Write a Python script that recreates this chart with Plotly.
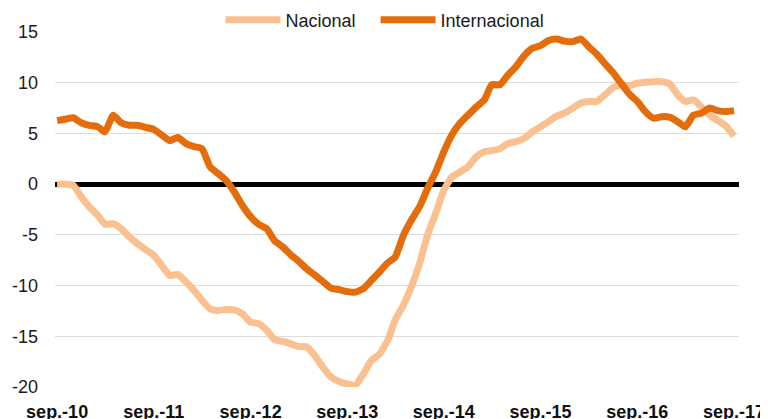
import pandas as pd
import plotly.graph_objects as go

# Monthly dates: sep-2010 .. sep-2017
dates = pd.date_range("2010-09-01", "2017-09-01", freq="MS")

nacional = [
    0.0, 0.0, -0.1, -1.25, -2.25, -3.05, -3.95, -3.9, -4.4, -5.2,
    -5.85, -6.45, -7.0, -8.0, -9.0, -8.9, -9.65, -10.5, -11.45, -12.3,
    -12.45, -12.35, -12.4, -12.8, -13.6, -13.75, -14.4, -15.35, -15.5, -15.75,
    -16.0, -16.05, -16.9, -18.05, -19.0, -19.45, -19.7, -19.85, -18.7, -17.4,
    -16.75, -15.4, -13.4, -11.95, -10.15, -7.85, -5.05, -2.9, -0.6, 0.7,
    1.2, 1.7, 2.7, 3.2, 3.3, 3.5, 4.0, 4.2, 4.5, 5.15,
    5.65, 6.15, 6.7, 7.0, 7.5, 8.0, 8.15, 8.15, 8.8, 9.5,
    9.8, 9.7, 9.95, 10.05, 10.1, 10.1, 9.9, 8.8, 8.15, 8.3,
    7.6, 6.8, 6.3, 5.75, 4.75,
]

internacional = [
    6.26, 6.4, 6.55, 6.05, 5.8, 5.67, 5.15, 6.8, 6.05, 5.8,
    5.8, 5.6, 5.4, 4.85, 4.3, 4.6, 4.0, 3.7, 3.5, 1.7,
    1.05, 0.35, -0.75, -2.1, -3.2, -3.95, -4.4, -5.6, -6.2, -7.0,
    -7.6, -8.35, -8.95, -9.6, -10.25, -10.4, -10.6, -10.65, -10.3, -9.5,
    -8.65, -7.75, -7.2, -5.05, -3.55, -2.25, -0.45, 1.2, 3.2, 4.85,
    6.0, 6.8, 7.6, 8.3, 9.8, 9.8, 10.75, 11.6, 12.65, 13.4,
    13.65, 14.15, 14.3, 14.1, 14.05, 14.3, 13.55, 12.8, 11.9, 11.0,
    9.95, 8.9, 8.15, 7.15, 6.5, 6.65, 6.6, 6.15, 5.65, 6.8,
    7.0, 7.5, 7.25, 7.15, 7.25,
]

tick_dates = ["2010-09-01", "2011-09-01", "2012-09-01", "2013-09-01",
              "2014-09-01", "2015-09-01", "2016-09-01", "2017-09-01"]
tick_labels = ["sep.-10", "sep.-11", "sep.-12", "sep.-13",
               "sep.-14", "sep.-15", "sep.-16", "sep.-17"]
y_ticks = [-20, -15, -10, -5, 0, 5, 10, 15]
y_labels = ["-20", "-15", "-10", "-5", "0", "5", "10", "15"]

FONT = "Liberation Sans, Arial, sans-serif"
PAD = "\u00a0\u00a0\u00a0"  # spacing between legend entries

fig = go.Figure()
fig.add_trace(go.Scatter(
    x=dates, y=nacional, name="Nacional" + PAD, mode="lines",
    line=dict(color="#FAC090", width=7, shape="spline", smoothing=0.5),
))
fig.add_trace(go.Scatter(
    x=dates, y=internacional, name="Internacional", mode="lines",
    line=dict(color="#E46C0A", width=7, shape="spline", smoothing=0.5),
))

# the page body adds an 8px offset, so the figure is sized to fit the window
fig.update_layout(
    width=760, height=411,
    margin=dict(l=47, r=29, t=24, b=32, autoexpand=False),
    paper_bgcolor="white", plot_bgcolor="white",
    font=dict(family=FONT, size=18, color="#1a1a1a"),
    showlegend=True,
    legend=dict(
        orientation="h", x=0.4825, xanchor="center",
        y=1.034, yanchor="middle",
        font=dict(size=18, color="#1a1a1a"),
        itemwidth=55, tracegroupgap=0,
        bgcolor="rgba(0,0,0,0)",
    ),
    xaxis=dict(
        range=["2010-08-24", "2017-09-20"],
        tickvals=tick_dates, ticktext=tick_labels,
        tickfont=dict(family=FONT, size=18, color="#111111", weight="bold"),
        showgrid=False, zeroline=False, showline=False,
        ticks="", ticklabelstandoff=12, automargin=False,
    ),
    yaxis=dict(
        range=[-20, 15], tickvals=y_ticks, ticktext=y_labels,
        tickfont=dict(family=FONT, size=18, color="#1a1a1a"),
        showgrid=True, gridcolor="#DDDDDD", gridwidth=1,
        zeroline=True, zerolinecolor="black", zerolinewidth=4.5,
        showline=False, ticks="", ticklabelstandoff=16, automargin=False,
    ),
)

fig.write_html("out.html")
